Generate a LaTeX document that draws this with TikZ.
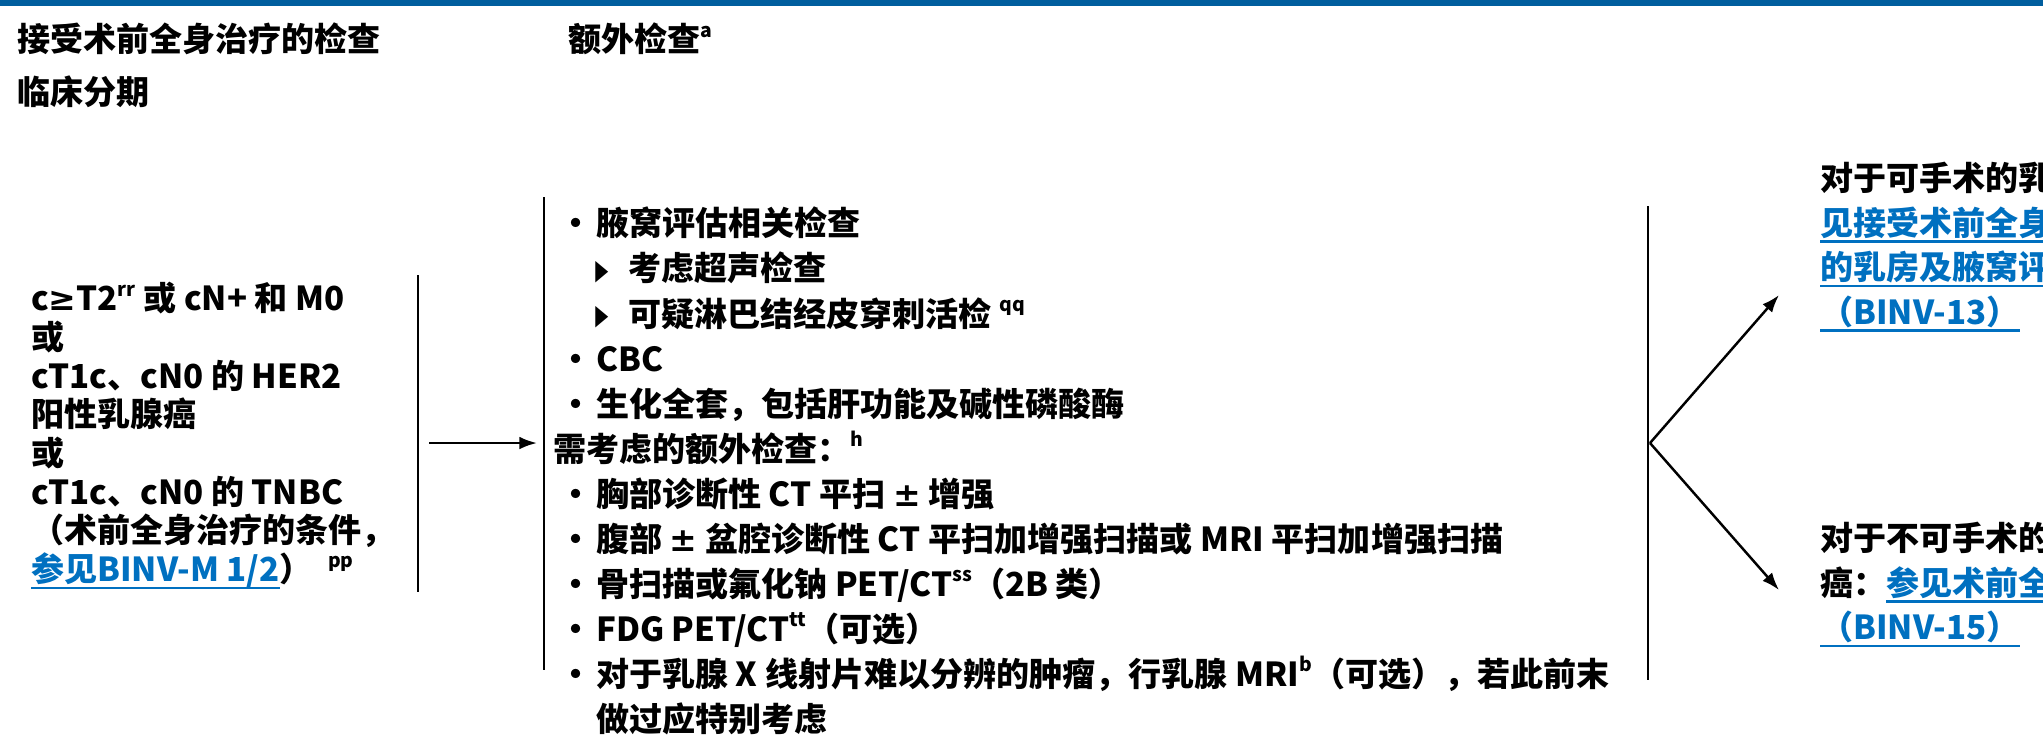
\documentclass[tikz,border=0pt]{standalone}
\usepackage{fontspec}
\setmainfont{Noto Sans CJK SC}
\newfontfamily\symfont{DejaVu Sans}
\usepackage{graphicx}
\usepackage{tikz}
\usetikzlibrary{arrows.meta,positioning}

\definecolor{barblue}{RGB}{0,94,158}
\definecolor{linkblue}{RGB}{0,112,192}
\newcommand{\lnk}[1]{\textcolor{linkblue}{\setbox0\hbox{#1}\rlap{\rule[-2.1pt]{\wd0}{0.6pt}}\box0}}
\newcommand{\supx}[1]{\raisebox{0.8ex}{\fontsize{5.5}{5.5}\selectfont #1}}
\newcommand{\itm}{\makebox[12.2pt][l]{\hspace{1.7pt}•}}
\newcommand{\subitm}{\hspace{12pt}\makebox[9.3pt][l]{\raisebox{0.3pt}{\symfont\fontsize{8}{8}\selectfont\scalebox{0.6}[1]{▶}}}}

\begin{document}
\begin{tikzpicture}[x=0.01cm,y=-0.01cm,line width=0.7pt,>={Latex[length=5pt,width=3.6pt]},
  every node/.style={inner sep=0pt,anchor=north west,align=left},
  head/.style={font=\bfseries\fontsize{9.4}{14.8}\selectfont},
  cond/.style={font=\bfseries\fontsize{9.4}{11}\selectfont},
  exams/.style={font=\bfseries\fontsize{9.4}{12.8}\selectfont},
  route/.style={font=\bfseries\fontsize{9.4}{12.66}\selectfont}]
  \useasboundingbox (0,0) rectangle (2043,747);
  \fill[barblue] (0,0) rectangle (2043,6);

  \node[head] (hstage) at (16,22)  {接受术前全身治疗的检查\\临床分期};
  \node[head] (hextra) at (567,22) {额外检查\supx{a}};

  \node[cond]  (stage) at (30,281)  {c{\symfont ≥}T2\supx{rr} 或 cN+ 和 M0\\或\\cT1c、cN0 的 HER2\\阳性乳腺癌\\或\\cT1c、cN0 的 TNBC\\（术前全身治疗的条件，\\\lnk{参见BINV-M 1/2}）\ \ \supx{pp}};
  \node[exams] (extra) at (552,206) {\itm 腋窝评估相关检查\\
    \subitm 考虑超声检查\\
    \subitm 可疑淋巴结经皮穿刺活检 \supx{qq}\\
    \itm CBC\\
    \itm 生化全套，包括肝功能及碱性磷酸酶\\
    需考虑的额外检查：\supx{h}\\
    \itm 胸部诊断性 CT 平扫 {\symfont ±} 增强\\
    \itm 腹部 {\symfont ±} 盆腔诊断性 CT 平扫加增强扫描或 MRI 平扫加增强扫描\\
    \itm 骨扫描或氟化钠 PET/CT\supx{ss}（2B 类）\\
    \itm FDG PET/CT\supx{tt}（可选）\\
    \itm 对于乳腺 X 线射片难以分辨的肿瘤，行乳腺 MRI\supx{b}（可选），若此前末\\
    \hspace{12.2pt}做过应特别考虑};
  \node[route] (op)   at (1819,161) {对于可手术的乳\\\lnk{见接受术前全身}\\\lnk{的乳房及腋窝评}\\\lnk{（BINV-13）}};
  \node[route] (inop) at (1819,521) {对于不可手术的\\癌：\lnk{参见术前全}\\\lnk{（BINV-15）}};

  % brackets
  \coordinate (stagetop) at (418,275);  \coordinate (stagebot) at (418,592);
  \coordinate (extratop) at (544,197);  \coordinate (extrabot) at (544,670);
  \coordinate (outtop)   at (1648,206); \coordinate (outbot)   at (1648,680);
  \draw (stagetop) -- (stagebot);
  \draw (extratop) -- (extrabot);
  \draw (outtop) -- (outbot);

  % arrows
  \coordinate (a1) at (429,443); \coordinate (a2) at (537,443);
  \coordinate (fork) at (1650,443);
  \coordinate (opend) at (1779,295); \coordinate (inopend) at (1779,590);
  \draw[->] (a1) -- (a2);
  \draw[->] (fork) -- (opend);
  \draw[->] (fork) -- (inopend);
\end{tikzpicture}
\end{document}
